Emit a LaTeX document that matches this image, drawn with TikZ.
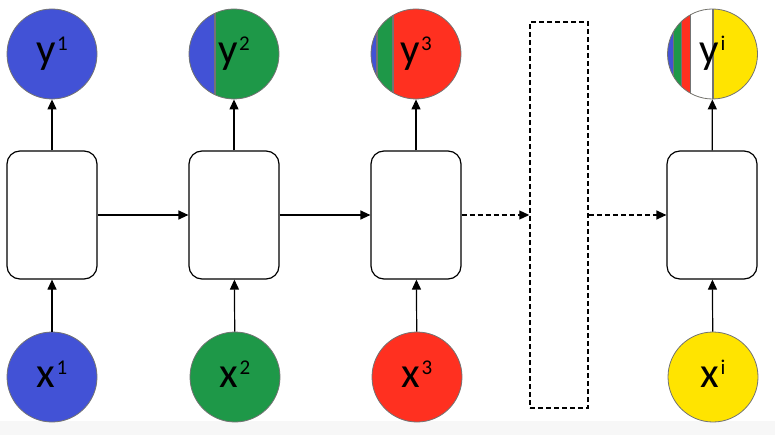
\documentclass[tikz,border=0pt]{standalone}
\usepackage{fontspec}
\setmainfont{Carlito}
\usetikzlibrary{arrows.meta}

\definecolor{cblue}{RGB}{66,82,214}
\definecolor{cgreen}{RGB}{30,152,72}
\definecolor{cred}{RGB}{255,48,32}
\definecolor{cyellow}{RGB}{255,228,0}

\newcommand\up[1]{\kern1.5pt\raisebox{13pt}{\fontsize{21}{21}\selectfont #1}}
\newcommand\band[3]{\fill[#1] ([xshift=#2pt]path picture bounding box.north west) rectangle ([xshift=#3pt]path picture bounding box.south west);}
\newcommand\seam[1]{\draw[line width=1.3pt] ([xshift=#1pt]path picture bounding box.north west) -- ([xshift=#1pt]path picture bounding box.south west);}

\begin{document}
\begin{tikzpicture}[x=1pt,y=-1pt,
  unit/.style={circle,minimum size=90pt,inner sep=0pt,draw=black!55,line width=0.8pt,
    font=\fontsize{43}{43}\selectfont,text height=24pt,text depth=4pt},
  cell/.style={draw,rounded corners=13pt,minimum width=90pt,minimum height=128pt,line width=1.2pt},
  arr/.style={line width=1.2pt,-{Triangle[length=10pt,width=9pt]}},
  darr/.style={arr,dash pattern=on 5pt off 3pt}]
\useasboundingbox (0,0) rectangle (775,435);
\fill[black!3] (0,421) rectangle (775,435);

% inputs
\node[unit,fill=cblue] (x1) at (52,377) {x\up{1}};
\node[unit,fill=cgreen] (x2) at (235,377) {x\up{2}};
\node[unit,fill=cred] (x3) at (417,377) {x\up{3}};
\node[unit,fill=cyellow] (xi) at (713,377) {x\up{i}};

% cells
\node[cell] (h1) at (52,215) {};
\node[cell] (h2) at (234,215) {};
\node[cell] (h3) at (416,215) {};
\node[cell] (h5) at (712,215) {};
\node[draw,dash pattern=on 5pt off 3pt,line width=1.5pt,minimum width=58pt,minimum height=386pt] (gap) at (559,215) {};

% outputs
\node[unit,fill=cblue] (y1) at (52,54) {y\up{1}};
\node[unit,fill=cgreen,path picture={\band{cblue}{0}{26}\seam{26}}] (y2) at (234,54) {y\up{2}};
\node[unit,fill=cred,path picture={\band{cblue}{0}{6}\band{cgreen}{6}{22}\seam{6}\seam{22}}] (y3) at (416,54) {y\up{3}};
\node[unit,fill=cyellow,path picture={\band{cblue}{0}{6}\band{cgreen}{6}{14}\band{cred}{14}{23}\band{white}{23}{45.5}
  \seam{6}\seam{14}\seam{23}\seam{45.5}}] (yi) at (712.5,54) {y\up{i}};

\draw[arr] (x1) -- (h1);
\draw[arr] (x2) -- (h2);
\draw[arr] (x3) -- (h3);
\draw[arr] (xi) -- (h5);

\draw[arr] (h1) -- (y1);
\draw[arr] (h2) -- (y2);
\draw[arr] (h3) -- (y3);
\draw[arr] (h5) -- (yi);

\draw[arr] (h1) -- (h2);
\draw[arr] (h2) -- (h3);
\draw[darr] (h3) -- (gap);
\draw[darr] (gap) -- (h5);

\end{tikzpicture}
\end{document}
